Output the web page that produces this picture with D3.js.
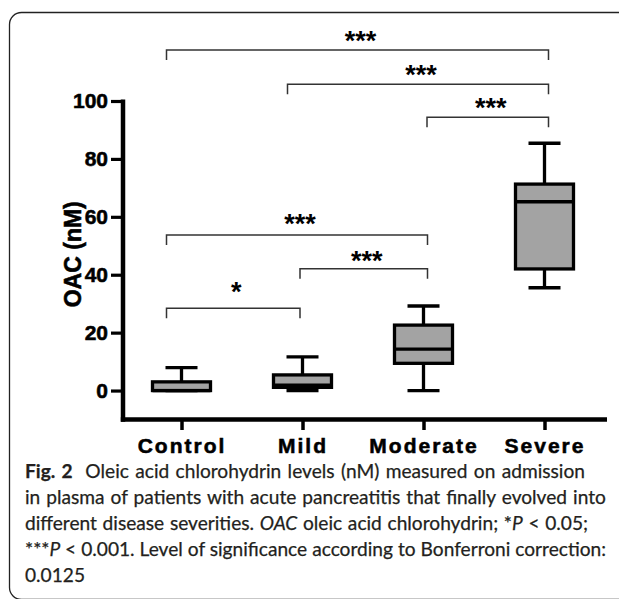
<!DOCTYPE html>
<html><head><meta charset="utf-8">
<script src="https://cdn.jsdelivr.net/npm/d3@7/dist/d3.min.js"></script>
<style>
html,body{margin:0;padding:0;background:#fff;}
svg{display:block;}
</style></head>
<body>
<script>
// ---- data ----
const categories = ["Control", "Mild", "Moderate", "Severe"];
const whiskerLow  = [0,   0,   0,    35.5];
const q1          = [0,   1.1, 9.4,  42.0];
const median      = [0,   1.9, 14.3, 65.2];
const q3          = [3.0, 5.4, 22.6, 71.3];
const whiskerHigh = [7.9, 11.6, 29.2, 85.4];
const yTicks = [0, 20, 40, 60, 80, 100];
const yLabel = "OAC (nM)";
// significance brackets: from, to, bracket level (nM), label level (nM), label
const bracketFrom  = ["Control", "Mild", "Moderate", "Control", "Mild", "Control"];
const bracketTo    = ["Severe", "Severe", "Severe", "Moderate", "Moderate", "Mild"];
const bracketLevel = [117.6, 105.8, 94.4, 53.7, 42.1, 28.4];
const labelLevel   = [122.8, 111.1, 99.8, 59.6, 46.8, 36.1];
const bracketText  = ["***", "***", "***", "***", "***", "*"];

const W = 619, H = 599;
const svg = d3.select("body").append("svg").attr("width", W).attr("height", H);

// frame
svg.append("rect").attr("x", 9.5).attr("y", 12.5).attr("width", 700).attr("height", 587)
  .attr("rx", 12).attr("fill", "none").attr("stroke", "#222").attr("stroke-width", 1.3);

const axisX0 = 123, axisX1 = 607;
const y = d3.scaleLinear().domain([-10, 100]).range([419.5, 101]);
const x = d3.scalePoint().domain(categories).range([181.5, 544.5]);

const boldFont = "'Liberation Sans', Arial, sans-serif";
function heavy(sel) {
  sel.attr("font-family", boldFont).attr("font-weight", "bold").attr("fill", "#000")
    .attr("stroke", "#000").attr("stroke-width", 0.55).attr("paint-order", "stroke");
}

// y axis
const gy = svg.append("g").attr("transform", `translate(${axisX0},0)`)
  .call(d3.axisLeft(y).tickValues(yTicks).tickSize(12).tickSizeOuter(0).tickPadding(3));
gy.select(".domain").remove();
gy.selectAll(".tick line").attr("stroke", "#000").attr("stroke-width", 3.2);
gy.selectAll(".tick text").attr("font-size", 21).call(heavy);
svg.append("line").attr("x1", axisX0).attr("x2", axisX0)
  .attr("y1", y(100) - 1.6).attr("y2", y(-10) + 2.2)
  .attr("stroke", "#000").attr("stroke-width", 4.5);

// x axis
const gx = svg.append("g").attr("transform", `translate(0,${y(-10)})`)
  .call(d3.axisBottom(x).tickSize(10.5).tickSizeOuter(0).tickPadding(8));
gx.select(".domain").remove();
gx.selectAll(".tick line").attr("stroke", "#000").attr("stroke-width", 3.5);
gx.selectAll(".tick text").attr("font-size", 21).call(heavy)
  .style("letter-spacing", "2px").attr("dy", "0.71em");
svg.append("line").attr("x1", axisX0 - 2.2).attr("x2", axisX1)
  .attr("y1", y(-10)).attr("y2", y(-10))
  .attr("stroke", "#000").attr("stroke-width", 4.5);

// y label
svg.append("text").attr("transform", `translate(81,${(y(100) + y(-10)) / 2 - 6}) rotate(-90)`)
  .attr("text-anchor", "middle").attr("font-size", 23).call(heavy).text(yLabel);

// boxes
const boxW = 58, capW = 32, sw = 3.3;
const g = svg.append("g");
categories.forEach((c, i) => {
  const cx = x(c);
  g.append("line").attr("x1", cx).attr("x2", cx).attr("y1", y(whiskerHigh[i])).attr("y2", y(q3[i]))
    .attr("stroke", "#000").attr("stroke-width", sw);
  g.append("line").attr("x1", cx).attr("x2", cx).attr("y1", y(whiskerLow[i])).attr("y2", y(q1[i]))
    .attr("stroke", "#000").attr("stroke-width", sw);
  g.append("line").attr("x1", cx - capW / 2).attr("x2", cx + capW / 2)
    .attr("y1", y(whiskerHigh[i])).attr("y2", y(whiskerHigh[i])).attr("stroke", "#000").attr("stroke-width", sw);
  g.append("line").attr("x1", cx - capW / 2).attr("x2", cx + capW / 2)
    .attr("y1", y(whiskerLow[i])).attr("y2", y(whiskerLow[i])).attr("stroke", "#000").attr("stroke-width", sw);
  g.append("rect").attr("x", cx - boxW / 2).attr("width", boxW)
    .attr("y", y(q3[i])).attr("height", y(q1[i]) - y(q3[i]))
    .attr("fill", "#a3a3a3").attr("stroke", "#000").attr("stroke-width", sw);
  g.append("line").attr("x1", cx - boxW / 2).attr("x2", cx + boxW / 2)
    .attr("y1", y(median[i])).attr("y2", y(median[i])).attr("stroke", "#000").attr("stroke-width", sw);
});

// brackets
const bg = svg.append("g");
bracketFrom.forEach((f, i) => {
  const to = bracketTo[i];
  const x1 = x(f) - (f === "Control" ? 15 : (f === "Mild" && to === "Moderate" ? 2.5 : (f === "Moderate" ? -3.5 : 15)));
  const x2 = x(to) + (to === "Mild" ? -2.5 : 4);
  const yy = y(bracketLevel[i]);
  bg.append("path").attr("d", `M${x1},${yy + 10}V${yy}H${x2}V${yy + 10}`)
    .attr("fill", "none").attr("stroke", "#333").attr("stroke-width", 1.5);
  bg.append("text").attr("x", (x1 + x2) / 2 + 3).attr("y", y(labelLevel[i]) + 15)
    .attr("text-anchor", "middle").attr("font-family", boldFont).attr("font-weight", "bold")
    .attr("font-size", 27).attr("fill", "#000").text(bracketText[i]);
});

// caption
const capFont = "Lato, 'Open Sans', sans-serif";
const captionLines = [
  [["b", "Fig. 2"], ["n", "  Oleic acid chlorohydrin levels (nM) measured on admission"]],
  [["n", "in plasma of patients with acute pancreatitis that finally evolved into"]],
  [["n", "different disease severities. "], ["i", "OAC"], ["n", " oleic acid chlorohydrin; *"], ["i", "P"], ["n", " < 0.05;"]],
  [["n", "***"], ["i", "P"], ["n", " < 0.001. Level of significance according to Bonferroni correction:"]],
  [["n", "0.0125"]]
];
const lineEnds = [585, 606, 588, 606, null];
const capX = 25;
const texts = captionLines.map((parts, li) => {
  const t = svg.append("text").attr("x", capX).attr("y", 478 + li * 26)
    .attr("font-family", capFont).attr("font-size", 20).attr("fill", "#231f20")
    .attr("stroke", "#231f20").attr("stroke-width", 0.25)
    .attr("xml:space", "preserve").style("white-space", "pre");
  parts.forEach(([s, str]) => {
    const ts = t.append("tspan").text(str);
    if (s === "b") ts.attr("font-weight", "bold");
    if (s === "i") ts.attr("font-style", "italic");
  });
  return t;
});
// fit: one font size for all lines, then word spacing to reach each line's width
const widthOf = t => t.node().getBBox().width;
let ratio = 0;
texts.forEach((t, i) => {
  if (lineEnds[i]) ratio = Math.max(ratio, widthOf(t) / (lineEnds[i] - capX));
});
const fs = 20 / ratio;
texts.forEach((t, i) => {
  t.attr("font-size", fs);
  if (lineEnds[i]) {
    const nat = widthOf(t);
    const spaces = (t.text().match(/ /g) || []).length;
    if (spaces) t.style("word-spacing", (((lineEnds[i] - capX) - nat) / spaces) + "px");
  }
});
</script>
</body></html>
